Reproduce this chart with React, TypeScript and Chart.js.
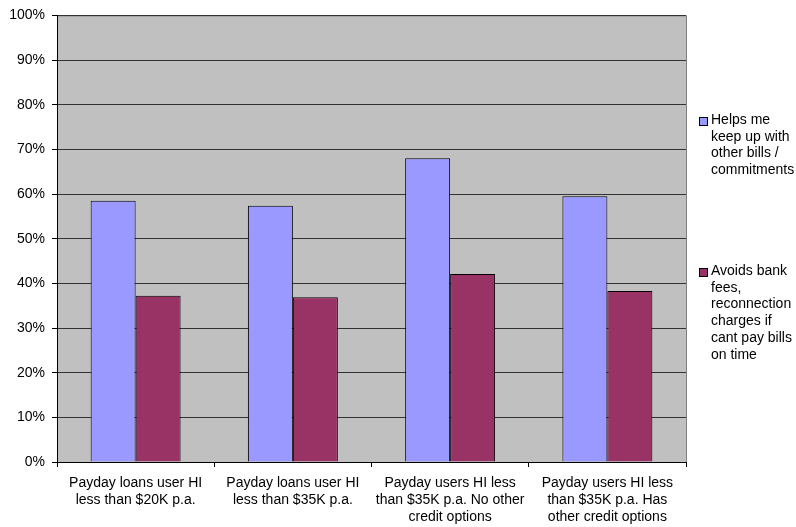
import React, { useEffect, useRef } from "react";
import { Chart, registerables } from "chart.js";

Chart.register(...registerables);

const categories: string[][] = [
  ["Payday loans user HI", "less than $20K p.a."],
  ["Payday loans user HI", "less than $35K p.a."],
  ["Payday users HI less", "than $35K p.a. No other", "credit options"],
  ["Payday users HI less", "than $35K p.a. Has", "other credit options"],
];
const helpsBills: number[] = [58.5, 57.4, 68.0, 59.5];
const avoidsFees: number[] = [37.2, 36.9, 42.1, 38.3];
const seriesNames: string[][] = [
  ["Helps me", "keep up with", "other bills /", "commitments"],
  ["Avoids bank", "fees,", "reconnection", "charges if", "cant pay bills", "on time"],
];
const seriesColors = ["#9999FF", "#993366"];

const FONT = "'Liberation Sans', Arial, sans-serif";

const bgPlugin = {
  id: "plotBg",
  beforeDraw(chart: any) {
    const { ctx, chartArea } = chart;
    ctx.save();
    ctx.fillStyle = "#C0C0C0";
    ctx.fillRect(chartArea.left, chartArea.top, chartArea.right - chartArea.left, chartArea.bottom - chartArea.top);
    ctx.strokeStyle = "#808080";
    ctx.lineWidth = 1;
    ctx.strokeRect(chartArea.left + 0.5, chartArea.top + 0.5, chartArea.right - chartArea.left, chartArea.bottom - chartArea.top);
    ctx.restore();
  },
};

const legendPlugin = {
  id: "customLegend",
  afterDraw(chart: any) {
    const { ctx } = chart;
    const x = 699;
    const starts = [117, 268];
    const lh = 16.8;
    ctx.save();
    ctx.font = `14px ${FONT}`;
    ctx.textBaseline = "top";
    seriesNames.forEach((lines, i) => {
      const y0 = starts[i];
      ctx.fillStyle = seriesColors[i];
      ctx.fillRect(x, y0, 9, 9);
      ctx.strokeStyle = "#000";
      ctx.lineWidth = 1;
      ctx.strokeRect(x + 0.5, y0 + 0.5, 8, 8);
      ctx.fillStyle = "#000";
      lines.forEach((t, j) => {
        ctx.fillText(t, 711, y0 - 4 + j * lh);
      });
    });
    ctx.restore();
  },
};

export default function App() {
  const ref = useRef<HTMLCanvasElement | null>(null);
  useEffect(() => {
    if (!ref.current) return;
    const chart = new Chart(ref.current, {
      type: "bar",
      data: {
        labels: categories,
        datasets: [
          {
            label: seriesNames[0].join(" "),
            data: helpsBills,
            backgroundColor: seriesColors[0],
            borderColor: "#000",
            borderWidth: 1,
          },
          {
            label: seriesNames[1].join(" "),
            data: avoidsFees,
            backgroundColor: seriesColors[1],
            borderColor: "#000",
            borderWidth: 1,
          },
        ],
      },
      options: {
        animation: false,
        responsive: false,
        devicePixelRatio: 1,
        layout: { padding: { left: 0, top: 15, right: 110, bottom: 0 } },
        datasets: { bar: { categoryPercentage: 0.572, barPercentage: 1.0 } },
        plugins: {
          legend: { display: false },
          tooltip: { enabled: false },
        },
        scales: {
          x: {
            grid: {
              offset: true,
              drawOnChartArea: false,
              drawTicks: true,
              tickLength: 5,
              color: "#000",
            },
            border: { color: "#000", width: 1 },
            ticks: {
              color: "#000",
              font: { family: FONT, size: 14, lineHeight: 1.2 },
              padding: 8,
              maxRotation: 0,
              autoSkip: false,
            },
            afterFit(scale: any) {
              scale.height = 65;
            },
          },
          y: {
            min: 0,
            max: 100,
            grid: {
              color: "#333",
              lineWidth: 1,
              drawTicks: true,
              tickLength: 5,
              tickColor: "#000",
            },
            border: { color: "#000", width: 1 },
            ticks: {
              stepSize: 10,
              color: "#000",
              font: { family: FONT, size: 14 },
              padding: 7,
              callback: (v: any) => `${v}%`,
            },
            afterFit(scale: any) {
              scale.width = 57;
            },
          },
        },
      },
      plugins: [bgPlugin, legendPlugin],
    });
    return () => chart.destroy();
  }, []);
  return (
    <div style={{ position: "fixed", left: 0, top: 0, width: 796, height: 527, background: "#fff" }}>
      <canvas ref={ref} width={796} height={527} style={{ display: "block" }} />
    </div>
  );
}
